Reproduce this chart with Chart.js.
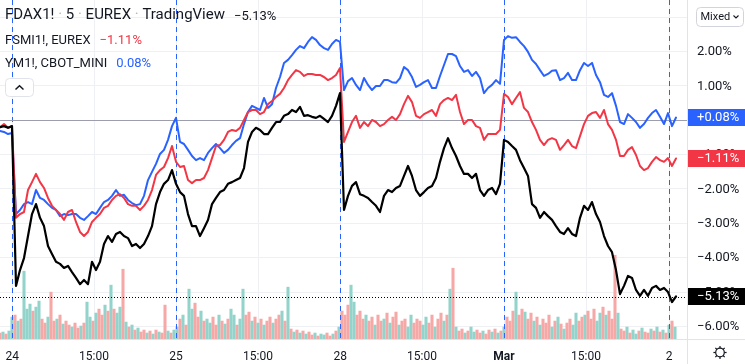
<!DOCTYPE html>
<html><head><meta charset="utf-8">
<script src="https://cdn.jsdelivr.net/npm/chart.js@4.4.0/dist/chart.umd.min.js"></script>
<style>html,body{margin:0;padding:0;background:#fff;}#wrap{width:745px;height:364px;position:relative;overflow:hidden}</style>
</head><body><div id="wrap"><canvas id="c" width="745" height="364"></canvas></div>
<script>
// ---- data (x = bar index, 5-min sampled) ----
const tickIdx = [3.08, 23.5, 44, 64.5, 85.08, 105.5, 126, 146.5, 167.3];
const tickLabels = ['24','15:00','25','15:00','28','15:00','Mar','15:00','2'];
const sessionStarts = [3.08, 44, 85.08, 126, 167.3];
const yTicks = [-6,-5,-4,-3,-2,-1,0,1,2,3];

const fdax = [-0.20,-0.17,-0.22,-0.17,-4.82,-4.36,-4.01,-3.37,-2.73,-2.44,
 -2.84,-3.08,-3.66,-3.89,-4.12,-4.18,-4.30,-4.24,-4.42,-4.59,
 -4.77,-4.65,-4.77,-4.12,-4.36,-4.12,-3.60,-3.37,-3.54,-3.31,
 -3.25,-3.37,-3.43,-3.66,-3.60,-3.72,-3.60,-3.37,-3.08,-2.44,
 -2.09,-1.85,-1.74,-1.45,-1.85,-2.09,-2.20,-2.73,-3.08,-3.08,
 -3.37,-3.14,-2.90,-2.44,-2.26,-2.09,-2.03,-1.85,-1.80,-1.74,
 -1.68,-1.39,-0.63,-0.34,-0.22,-0.28,-0.40,-0.40,-0.22,-0.05,
 -0.05,0.13,0.18,0.30,0.24,0.39,0.13,0.15,0.10,0.07,
 0.13,0.04,-0.05,0.13,0.42,0.79,-2.61,-2.20,-1.91,-1.80,
 -2.15,-2.20,-2.26,-2.38,-2.49,-2.67,-2.20,-2.03,-2.09,-1.97,
 -1.91,-1.62,-1.33,-1.62,-2.03,-2.20,-2.09,-1.97,-1.91,-1.68,
 -1.21,-0.81,-0.52,-0.81,-1.04,-1.33,-1.56,-1.56,-1.68,-1.56,
 -2.03,-2.20,-2.03,-1.97,-2.15,-1.85,-0.57,-0.63,-0.75,-0.86,
 -1.16,-1.39,-1.62,-2.44,-2.55,-2.84,-2.67,-2.79,-2.90,-3.08,
 -3.25,-3.31,-3.14,-3.31,-3.37,-2.84,-2.49,-2.61,-2.38,-2.73,
 -2.96,-3.37,-3.66,-3.84,-4.36,-5.06,-4.82,-4.53,-4.59,-4.94,
 -5.11,-4.94,-5.11,-4.88,-4.82,-4.94,-4.88,-5.00,-5.29,-5.13];

const fsmi = [-0.20,-0.11,-0.22,-0.17,-2.84,-2.73,-2.67,-2.03,-1.80,-1.56,
 -1.80,-1.97,-2.26,-2.49,-2.61,-2.73,-2.90,-2.67,-2.61,-2.96,
 -3.25,-3.37,-3.25,-2.96,-2.84,-2.73,-2.55,-2.49,-2.32,-2.20,
 -2.15,-2.26,-2.44,-2.49,-2.49,-2.61,-2.49,-2.32,-2.03,-1.59,
 -1.45,-1.36,-1.10,-0.75,-1.21,-1.36,-1.33,-1.74,-1.83,-1.74,
 -1.74,-1.68,-1.45,-1.10,-0.75,-0.72,-0.57,-0.34,-0.28,-0.31,
 -0.22,0.01,0.24,0.30,0.30,0.18,0.24,0.47,0.56,0.68,
 0.77,0.94,1.17,1.32,1.46,1.41,1.29,1.35,1.35,1.32,
 1.32,1.26,1.17,1.23,1.32,1.52,-0.63,-0.34,-0.05,0.13,
 -0.22,-0.05,-0.17,0.01,-0.05,-0.17,-0.11,0.01,0.10,0.01,
 0.18,0.47,0.71,0.53,0.13,0.07,0.18,0.24,0.30,0.13,
 0.47,0.59,0.65,0.59,0.74,0.24,-0.11,0.01,0.01,-0.17,
 -0.22,-0.57,-0.40,-0.40,-0.40,-0.28,0.77,0.68,0.47,0.65,
 0.82,0.36,0.24,-0.05,-0.28,-0.57,-0.72,-0.57,-0.52,-0.57,
 -0.86,-0.72,-0.57,-0.75,-0.81,-0.46,-0.11,0.13,0.21,0.24,
 0.07,0.30,-0.11,-0.28,-0.57,-1.04,-1.04,-0.86,-0.78,-1.01,
 -1.33,-1.45,-1.39,-1.21,-1.07,-1.16,-1.21,-1.10,-1.33,-1.11];

const ym = [-0.31,-0.34,-0.40,-0.37,-2.73,-2.61,-2.44,-2.38,-2.44,-2.03,
 -2.26,-2.32,-2.44,-2.55,-2.61,-2.79,-2.73,-2.76,-2.73,-2.73,
 -2.84,-2.90,-2.79,-2.67,-2.73,-2.55,-2.38,-2.32,-2.20,-2.03,
 -2.20,-2.17,-2.32,-2.41,-2.47,-2.44,-2.20,-1.74,-1.50,-1.27,
 -0.98,-0.86,-0.57,-0.17,0.07,-0.63,-0.69,-0.86,-1.04,-1.16,
 -1.10,-1.16,-0.95,-0.81,-0.69,-0.81,-0.95,-0.86,-0.72,-0.60,
 -0.52,-0.11,0.24,0.42,0.36,0.30,0.65,0.36,0.47,0.94,
 1.26,1.67,1.76,1.90,2.05,2.16,2.10,2.28,2.42,2.34,
 2.19,2.10,2.05,2.22,2.34,2.28,0.88,1.14,1.23,1.03,
 0.88,1.23,1.03,0.88,1.00,1.00,1.17,1.17,1.11,1.09,
 1.23,1.55,1.46,1.26,0.97,1.03,1.11,1.17,0.94,0.94,
 1.29,1.61,1.93,1.93,1.87,1.58,1.41,1.46,1.29,1.41,
 1.23,0.79,0.94,1.03,1.17,1.06,2.34,2.45,2.40,2.42,
 2.28,2.16,1.99,1.76,1.64,1.46,1.29,1.35,1.44,1.46,
 1.17,1.23,1.38,1.17,1.17,1.46,1.67,1.58,1.67,1.32,
 1.11,0.74,0.68,0.79,0.42,-0.05,-0.11,0.18,0.07,-0.05,
 -0.22,-0.11,0.07,0.21,0.30,0.10,-0.11,0.21,-0.17,0.08];

// volume (relative units), sampled at 0.75 bar-index steps
const volume = [6,7,5,8,22,24,18,20,68,30,
 35,28,32,38,20,16,22,47,18,20,
 24,15,18,14,12,16,11,13,16,37,
 22,18,26,30,24,34,28,54,30,26,
 32,70,17,12,14,9,11,7,9,6,
 8,5,9,7,6,34,8,6,9,12,
 20,24,14,50,30,36,22,28,18,20,
 16,22,14,24,18,15,20,30,24,14,
 20,50,24,27,18,22,16,20,14,18,
 22,16,20,24,28,18,52,10,7,9,
 6,8,5,7,4,6,3,5,4,6,
 3,5,8,12,28,24,34,54,37,24,
 28,20,24,18,22,14,24,18,20,26,
 16,22,27,14,18,20,12,24,16,20,
 18,14,22,16,24,12,20,26,18,24,
 50,71,12,8,10,6,8,12,7,9,
 6,8,5,9,7,10,6,8,12,22,
 18,28,47,24,30,27,20,26,18,22,
 14,20,16,24,12,18,22,15,10,16,
 20,14,26,18,22,24,28,20,30,18,
 26,32,24,28,20,84,26,10,8,12,
 6,9,5,8,11,7,6,10,8,12,
 7,9,6,14,18,12];
const volDir = ("duduu duduu uduud duddu duddu ddudu ududd ududu ududu duddu dudud duduu " +
 "duduu ddudu uddud uduud uuddu dudud duddu dudud ududd uduud dudud dduud ddudd uddud " +
 "uddud duudd duudd uddud ududd uduud duddu dudud ddudd uddud udddu dudud duudd udddu " +
 "ududd duddu duudu ddudu dudud u").replace(/ /g,'');

// ---- styling ----
const FONT = "Roboto, 'Liberation Sans', sans-serif";
const TEXT = '#131722';
const GRID = '#eef0f4';
const C_FDAX = '#000000', C_FSMI = '#f23645', C_YM = '#2962ff';

function fmt(v, plus){
  const s = Math.abs(v).toFixed(2) + '%';
  if (v < 0) return '\u2212' + s;
  return (plus && v > 0 ? '+' : '') + s;
}
function rrect(ctx, x, y, w, h, r){
  ctx.beginPath();
  ctx.moveTo(x+r,y); ctx.lineTo(x+w-r,y); ctx.arcTo(x+w,y,x+w,y+r,r);
  ctx.lineTo(x+w,y+h-r); ctx.arcTo(x+w,y+h,x+w-r,y+h,r);
  ctx.lineTo(x+r,y+h); ctx.arcTo(x,y+h,x,y+h-r,r);
  ctx.lineTo(x,y+r); ctx.arcTo(x,y,x+r,y,r); ctx.closePath();
}

const overlay = {
  id: 'overlay',
  beforeDatasetsDraw(chart){
    const {ctx, chartArea:a, scales:{x}} = chart;
    ctx.save();
    ctx.lineWidth = 1; ctx.strokeStyle = GRID;
    tickIdx.forEach(v => {
      const px = Math.round(x.getPixelForValue(v)) + 0.5;
      ctx.beginPath(); ctx.moveTo(px, a.top); ctx.lineTo(px, a.bottom); ctx.stroke();
    });
    ctx.restore();
  },
  afterDatasetDraw(chart, args){
    if (args.index !== 3) return;
    const {ctx, chartArea:a, scales:{x, y}} = chart;
    ctx.save();
    ctx.strokeStyle = '#2962ff'; ctx.lineWidth = 1; ctx.setLineDash([5,4]);
    sessionStarts.forEach(v => {
      const px = Math.round(x.getPixelForValue(v)) + 0.5;
      ctx.beginPath(); ctx.moveTo(px, a.top); ctx.lineTo(px, a.bottom); ctx.stroke();
    });
    ctx.setLineDash([]);
    ctx.strokeStyle = '#9c9eae';
    let py = Math.round(y.getPixelForValue(0)) + 0.5;
    ctx.beginPath(); ctx.moveTo(a.left, py); ctx.lineTo(a.right, py); ctx.stroke();
    ctx.strokeStyle = '#000'; ctx.setLineDash([1,2]);
    py = Math.round(y.getPixelForValue(fdax[fdax.length-1])) + 0.5;
    ctx.beginPath(); ctx.moveTo(a.left, py); ctx.lineTo(a.right, py); ctx.stroke();
    ctx.restore();
  },
  afterDraw(chart){
    const {ctx, chartArea:a, scales:{y}} = chart;
    ctx.save();
    ctx.strokeStyle = '#e0e3eb'; ctx.lineWidth = 1;
    ctx.beginPath(); ctx.moveTo(0, a.bottom + 0.5); ctx.lineTo(745, a.bottom + 0.5); ctx.stroke();
    ctx.beginPath(); ctx.moveTo(a.right + 0.5, 0); ctx.lineTo(a.right + 0.5, 364); ctx.stroke();
    // price scale labels
    ctx.font = '13px ' + FONT; ctx.textBaseline = 'middle'; ctx.textAlign = 'left';
    ctx.fillStyle = TEXT;
    yTicks.forEach(v => ctx.fillText(fmt(v, false), a.right + 10, y.getPixelForValue(v) + 0.5));
    // last value boxes
    const boxes = [[ym, C_YM, true],[fsmi, C_FSMI, false],[fdax, C_FDAX, false]];
    boxes.forEach(([arr, col, plus]) => {
      const v = arr[arr.length-1];
      const p = y.getPixelForValue(v);
      ctx.fillStyle = col;
      ctx.fillRect(a.right + 1, Math.round(p - 8.5), 745 - a.right, 17);
      ctx.fillStyle = '#fff';
      ctx.fillText(fmt(v, plus), a.right + 10, p + 0.5);
    });
    // legend
    let xx = 5;
    ctx.font = '15px ' + FONT;
    const parts = [['FDAX1!',TEXT],[' \u00b7 ','#b2b5be'],['5',TEXT],[' \u00b7 ','#b2b5be'],['EUREX',TEXT],[' \u00b7 ','#b2b5be'],['TradingView',TEXT]];
    parts.forEach(([t,c]) => { ctx.fillStyle = c; ctx.fillText(t, xx, 15.5); xx += ctx.measureText(t).width; });
    ctx.font = '13px ' + FONT; ctx.fillStyle = TEXT;
    ctx.fillText(fmt(fdax[fdax.length-1], false), xx + 9, 16.5);
    const rows = [['FSMI1!, EUREX', fsmi, C_FSMI, 40.5], ['YM1!, CBOT_MINI', ym, C_YM, 63.5]];
    rows.forEach(([name, arr, col, ty]) => {
      ctx.fillStyle = TEXT; ctx.fillText(name, 5, ty);
      const w = ctx.measureText(name).width;
      ctx.fillStyle = col; ctx.fillText(fmt(arr[arr.length-1], false), 5 + w + 9, ty);
    });
    // collapse button
    ctx.fillStyle = '#fff'; ctx.strokeStyle = '#e0e3eb';
    rrect(ctx, 5.5, 78.5, 28, 18, 4); ctx.fill(); ctx.stroke();
    ctx.strokeStyle = TEXT; ctx.lineWidth = 1.5;
    ctx.beginPath(); ctx.moveTo(15.5, 89.5); ctx.lineTo(19.5, 85.8); ctx.lineTo(23.5, 89.5); ctx.stroke();
    // Mixed button
    ctx.lineWidth = 1; ctx.fillStyle = '#fff'; ctx.strokeStyle = '#d1d4dc';
    rrect(ctx, 696.5, 7.5, 47, 19, 4); ctx.fill(); ctx.stroke();
    ctx.fillStyle = TEXT; ctx.font = '11px ' + FONT;
    ctx.fillText('Mixed', 700.5, 17);
    ctx.strokeStyle = TEXT; ctx.lineWidth = 1.1;
    ctx.beginPath(); ctx.moveTo(733.5, 15.5); ctx.lineTo(736, 18); ctx.lineTo(738.5, 15.5); ctx.stroke();
    // settings icon
    const gx = 720, gy = 352.5;
    ctx.lineWidth = 1.2;
    ctx.beginPath(); ctx.arc(gx, gy, 4.3, 0, Math.PI*2); ctx.stroke();
    for (let k = 0; k < 8; k++) {
      const an = k * Math.PI / 4;
      ctx.beginPath();
      ctx.moveTo(gx + Math.cos(an)*4.3, gy + Math.sin(an)*4.3);
      ctx.lineTo(gx + Math.cos(an)*6.6, gy + Math.sin(an)*6.6);
      ctx.stroke();
    }
    ctx.restore();
  }
};

const series = (arr) => arr.map((v, i) => ({x: i, y: v}));

new Chart(document.getElementById('c'), {
  type: 'line',
  data: { datasets: [
    { label: 'FDAX1!', data: series(fdax), borderColor: C_FDAX, borderWidth: 2.2, order: 0 },
    { label: 'FSMI1!', data: series(fsmi), borderColor: C_FSMI, borderWidth: 2, order: 1 },
    { label: 'YM1!', data: series(ym), borderColor: C_YM, borderWidth: 2, order: 2 },
    { type: 'bar', label: 'Volume', yAxisID: 'yv', order: 3,
      data: volume.map((v, i) => ({x: i * 0.75, y: v})),
      backgroundColor: volume.map((v, i) => volDir[i] === 'u' ? '#92d3cb' : '#f6a8a6'),
      borderWidth: 0, barThickness: 2.4 }
  ]},
  options: {
    responsive: false, animation: false, devicePixelRatio: 1,
    layout: { padding: 0 },
    elements: { point: { radius: 0 }, line: { tension: 0, borderJoinStyle: 'round', borderCapStyle: 'round' } },
    plugins: { legend: { display: false }, tooltip: { enabled: false } },
    scales: {
      x: { type: 'linear', min: 0, max: 171.75, offset: false, position: 'bottom',
        grid: { display: false }, border: { display: false },
        afterBuildTicks: s => { s.ticks = tickIdx.map(v => ({value: v})); },
        afterFit: s => { s.height = 25; },
        ticks: { autoSkip: false, maxRotation: 0, padding: 3, color: TEXT,
          callback: (v, i) => tickLabels[i],
          font: c => ({ family: FONT, size: 12, weight: tickLabels[c.index] === 'Mar' ? 'bold' : 'normal' }) } },
      y: { type: 'linear', position: 'right', min: -6.367, max: 3.502,
        afterBuildTicks: s => { s.ticks = yTicks.map(v => ({value: v})); },
        afterFit: s => { s.width = 58; },
        grid: { color: GRID, drawTicks: false },
        border: { display: false },
        ticks: { display: false } },
      yv: { type: 'linear', display: false, min: 0, max: 340 }
    }
  },
  plugins: [overlay]
});
</script>
</body></html>
